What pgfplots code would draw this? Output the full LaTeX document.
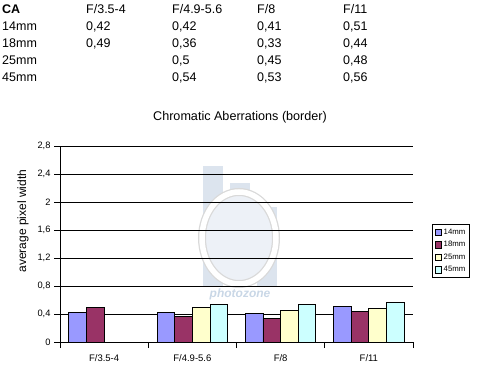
\documentclass[border=0pt]{standalone}
\usepackage{pgfplots}
\pgfplotsset{compat=1.18}
\usepackage{fontspec}
\setmainfont{Liberation Sans}
\definecolor{c14}{HTML}{9999FF}
\definecolor{c18}{HTML}{993366}
\definecolor{c25}{HTML}{FFFFCC}
\definecolor{c45}{HTML}{CCFFFF}
\definecolor{wm}{HTML}{DCE4EE}
\definecolor{wmtext}{HTML}{C9D7E6}
\begin{document}
\begin{tikzpicture}
\path[use as bounding box] (0,0) rectangle (487pt,-372pt);
% data table above the chart
\begin{scope}[every node/.style={anchor=west, inner sep=0pt, font=\fontsize{12.5}{14}\selectfont}]
\node[font=\fontsize{12.5}{14}\selectfont\bfseries] at (2pt,-9.5pt) {CA};
\node at (86pt,-9.5pt) {F/3.5-4};
\node at (172pt,-9.5pt) {F/4.9-5.6};
\node at (257pt,-9.5pt) {F/8};
\node at (343pt,-9.5pt) {F/11};
\node at (2pt,-26.5pt) {14mm};
\node at (86pt,-26.5pt) {0,42};
\node at (172pt,-26.5pt) {0,42};
\node at (257pt,-26.5pt) {0,41};
\node at (343pt,-26.5pt) {0,51};
\node at (2pt,-43.5pt) {18mm};
\node at (86pt,-43.5pt) {0,49};
\node at (172pt,-43.5pt) {0,36};
\node at (257pt,-43.5pt) {0,33};
\node at (343pt,-43.5pt) {0,44};
\node at (2pt,-60.5pt) {25mm};
\node at (172pt,-60.5pt) {0,5};
\node at (257pt,-60.5pt) {0,45};
\node at (343pt,-60.5pt) {0,48};
\node at (2pt,-77.5pt) {45mm};
\node at (172pt,-77.5pt) {0,54};
\node at (257pt,-77.5pt) {0,53};
\node at (343pt,-77.5pt) {0,56};
\end{scope}
% watermark
\fill[wm] (203pt,-166pt) rectangle (223pt,-287pt);
\fill[wm] (230pt,-183pt) rectangle (250pt,-287pt);
\fill[wm] (257pt,-207pt) rectangle (277pt,-287pt);
\fill[white!50!wm] (239pt,-238pt) ellipse (37pt and 46pt);
\draw[gray!30, line width=8pt] (239pt,-238pt) ellipse (37pt and 46pt);
\draw[white, line width=5.5pt] (239pt,-238pt) ellipse (37pt and 46pt);
\node[font=\fontsize{12}{14}\selectfont\bfseries\itshape, text=wmtext] at (240pt,-294pt) {photozone};
\begin{axis}[
  at={(60pt,-342pt)}, anchor=south west,
  scale only axis, width=353pt, height=196pt,
  xmin=-0.5, xmax=3.5, ymin=0, ymax=2.8,
  axis lines*=left,
  axis line style={black, line width=0.9pt},
  xtick={0,1,2,3},
  xticklabels={F/3.5-4,F/4.9-5.6,F/8,F/11},
  minor xtick={-0.5,0.5,1.5,2.5,3.5},
  major x tick style={draw=none},
  minor x tick style={black, line width=0.9pt},
  minor tick length=6pt,
  major tick length=6pt,
  tick align=outside,
  ytick={0,0.4,0.8,1.2,1.6,2,2.4,2.8},
  y tick style={black, line width=0.9pt},
  ymajorgrids,
  major grid style={black, line width=0.9pt},
  /pgf/number format/assume math mode=true,
  /pgf/number format/use comma,
  yticklabel style={font=\fontsize{9.3}{10}\selectfont},
  xticklabel style={font=\fontsize{9.5}{10}\selectfont, yshift=-3.5pt},
  title={Chromatic Aberrations (border)},
  every axis title/.style={at={(axis description cs:0.51,1.148)}, anchor=center, font=\fontsize{12.6}{14}\selectfont},
  ylabel={average pixel width},
  every axis y label/.style={at={(axis description cs:-0.105,0.617)}, rotate=90, anchor=center, font=\fontsize{12}{14}\selectfont},
  ybar, bar width=0.2,
  legend style={at={(axis description cs:1.054,0.602)}, anchor=north west,
    draw=black, line width=0.9pt, font=\fontsize{7.8}{8}\selectfont,
    inner xsep=2pt, inner ysep=2.5pt, row sep=1.6pt, cells={anchor=west}},
  legend image code/.code={\draw[#1, line width=0.7pt] (0pt,-3.2pt) rectangle (6.5pt,3.2pt);},
]
\addplot[fill=c14, draw=black, line width=0.9pt, bar shift=-0.3] coordinates {(0,0.42) (1,0.42) (2,0.41) (3,0.51)};
\addplot[fill=c18, draw=black, line width=0.9pt, bar shift=-0.1] coordinates {(0,0.49) (1,0.36) (2,0.33) (3,0.44)};
\addplot[fill=c25, draw=black, line width=0.9pt, bar shift=0.1] coordinates {(1,0.5) (2,0.45) (3,0.48)};
\addplot[fill=c45, draw=black, line width=0.9pt, bar shift=0.3] coordinates {(1,0.54) (2,0.53) (3,0.56)};
\legend{14mm,18mm,25mm,45mm}
\end{axis}
\end{tikzpicture}
\end{document}
